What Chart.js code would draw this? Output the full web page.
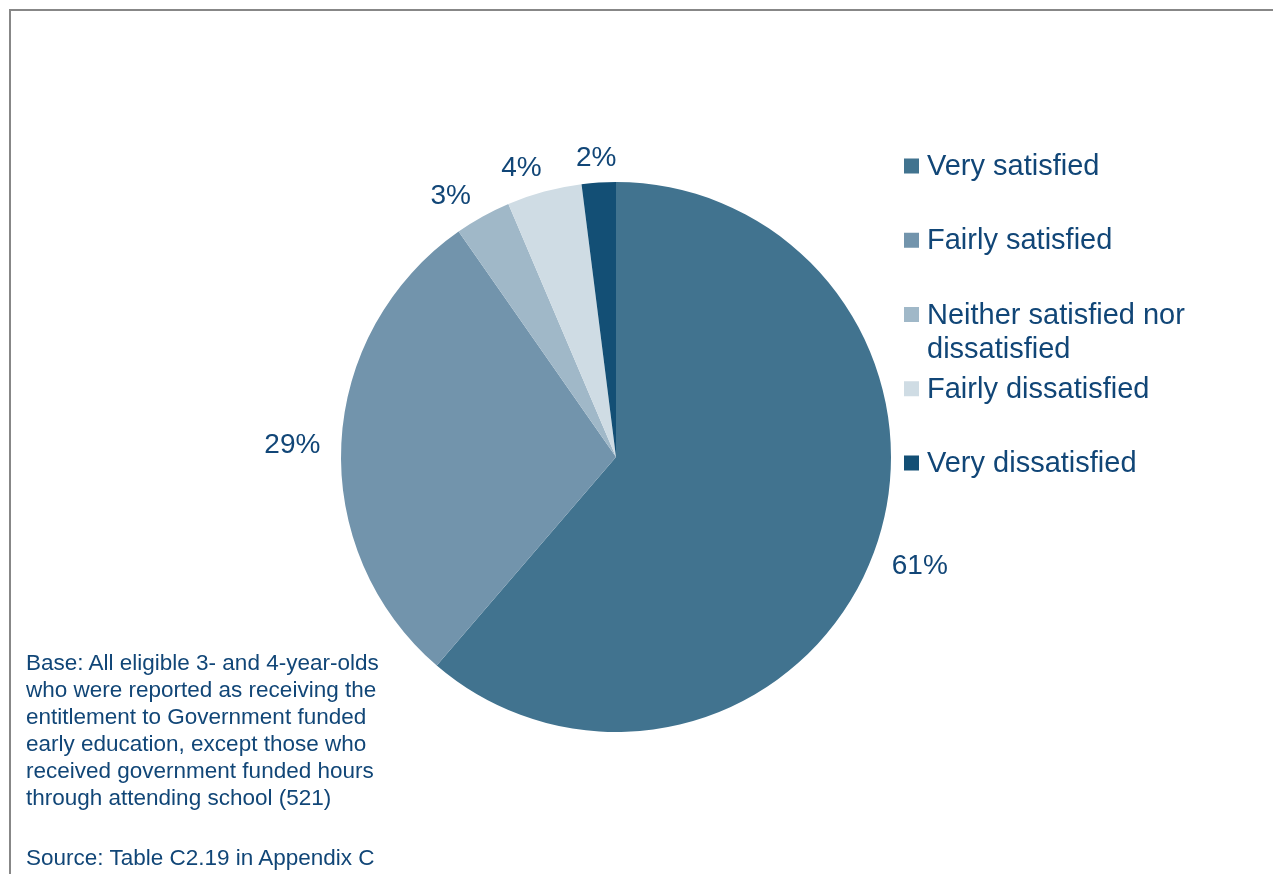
<!DOCTYPE html>
<html>
<head>
    <meta charset="UTF-8">
    <title>Satisfaction with early education</title>
    <script src="https://cdn.jsdelivr.net/npm/chart.js@4.4.1/dist/chart.umd.min.js"></script>
    <style>
        body {
            margin: 0;
            background: #fff;
            font-family: "Liberation Sans", Arial, sans-serif;
        }
        .wrap {
            position: relative;
            width: 1273px;
            height: 874px;
            overflow: hidden;
        }
        .frame {
            position: absolute;
            left: 9px;
            top: 9px;
            right: -10px;
            bottom: -10px;
            border-top: 2px solid #878787;
            border-left: 2px solid #878787;
        }
        .note {
            position: absolute;
            left: 26px;
            color: #114677;
            font-size: 22.5px;
            line-height: 27px;
            white-space: nowrap;
        }
        #base { top: 649px; }
        #source { top: 844px; }
    </style>
</head>
<body>
<div class="wrap">
    <div class="frame"></div>
    <canvas id="pieChart"></canvas>
    <div class="note" id="base">Base: All eligible 3- and 4-year-olds<br>who were reported as receiving the<br>entitlement to Government funded<br>early education, except those who<br>received government funded hours<br>through attending school (521)</div>
    <div class="note" id="source">Source: Table C2.19 in Appendix C</div>
</div>
<script>
    // Data
    const categories = ['Very satisfied', 'Fairly satisfied', 'Neither satisfied nor dissatisfied', 'Fairly dissatisfied', 'Very dissatisfied'];
    const shares = [61.3, 29.0, 3.3, 4.4, 2.0];
    const colors = ['#41738f', '#7294ac', '#a0b8c8', '#cfdce4', '#134f75'];
    const textColor = '#114677';

    // percentage labels just outside each slice
    const sliceLabels = {
        id: 'sliceLabels',
        afterDatasetsDraw(chart) {
            const c = chart.ctx;
            const arcs = chart.getDatasetMeta(0).data;
            c.save();
            c.font = '28px "Liberation Sans", Arial, sans-serif';
            c.fillStyle = textColor;
            c.textAlign = 'center';
            c.textBaseline = 'middle';
            arcs.forEach((arc, i) => {
                const p = arc.getProps(['x', 'y', 'startAngle', 'endAngle', 'outerRadius'], true);
                const mid = (p.startAngle + p.endAngle) / 2;
                const txt = Math.round(shares[i]) + '%';
                const w = c.measureText(txt).width;
                const ux = Math.cos(mid), uy = Math.sin(mid);
                // narrow slices at the top get pushed a little to the left
                const shift = uy < -0.8 && ux < -0.15 ? -12 : 0;
                c.fillText(txt, p.x + ux * (p.outerRadius + 21 + w / 2) + shift, p.y + uy * (p.outerRadius + 28) + 4);
            });
            c.restore();
        }
    };

    // legend on the right, fixed row spacing, long labels wrap
    const sideLegend = {
        id: 'sideLegend',
        afterDraw(chart) {
            const c = chart.ctx;
            const x0 = chart.chartArea.right + 13;
            const y0 = 167, step = 74.25, maxW = 275;
            c.save();
            c.font = '29px "Liberation Sans", Arial, sans-serif';
            c.textBaseline = 'middle';
            categories.forEach((name, i) => {
                const y = y0 + i * step;
                c.fillStyle = colors[i];
                c.fillRect(x0, y - 8.5, 15, 15);
                c.fillStyle = textColor;
                let line = '', ly = y;
                name.split(' ').forEach(word => {
                    const test = line ? line + ' ' + word : word;
                    if (line && c.measureText(test).width > maxW) {
                        c.fillText(line, x0 + 23, ly);
                        line = word;
                        ly += 34;
                    } else {
                        line = test;
                    }
                });
                c.fillText(line, x0 + 23, ly);
            });
            c.restore();
        }
    };

    const ctx = document.getElementById('pieChart').getContext('2d');
    new Chart(ctx, {
        type: 'pie',
        data: {
            labels: categories,
            datasets: [{
                data: shares,
                backgroundColor: colors,
                borderWidth: 0
            }]
        },
        options: {
            responsive: true,
            maintainAspectRatio: false,
            animation: false,
            layout: {
                padding: { left: 341, right: 382, top: 182, bottom: 142 }
            },
            plugins: {
                legend: { display: false },
                tooltip: { enabled: false }
            }
        },
        plugins: [sliceLabels, sideLegend]
    });
</script>
</body>
</html>
